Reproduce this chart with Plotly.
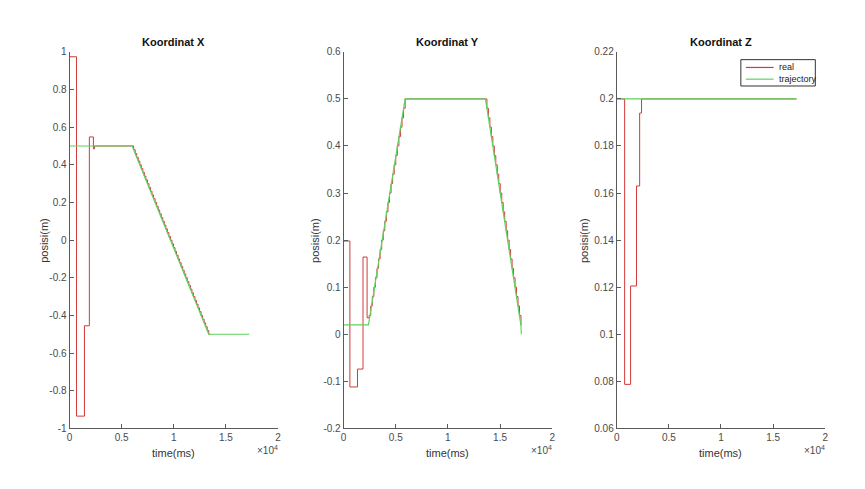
import plotly.graph_objects as go

# ---------------- data ----------------
# Koordinat X
x_traj_t = [0, 6000, 13350, 17240]
x_traj_v = [0.5, 0.5, -0.5, -0.5]
x_real_pre_t = [0, 670, 1430, 1900, 2290, 2400]
x_real_pre_v = [0.974, -0.935, -0.455, 0.548, 0.485, 0.5]
x_ramp_start = 6000
x_ramp_dt = 147
x_ramp_v = [0.50, 0.48, 0.46, 0.44, 0.42, 0.40, 0.38, 0.36, 0.34, 0.32,
            0.30, 0.28, 0.26, 0.24, 0.22, 0.20, 0.18, 0.16, 0.14, 0.12,
            0.10, 0.08, 0.06, 0.04, 0.02, 0.00, -0.02, -0.04, -0.06, -0.08,
            -0.10, -0.12, -0.14, -0.16, -0.18, -0.20, -0.22, -0.24, -0.26, -0.28,
            -0.30, -0.32, -0.34, -0.36, -0.38, -0.40, -0.42, -0.44, -0.46, -0.48,
            -0.50]
x_real_end_t = [13500]
x_real_end_v = [-0.5]

# Koordinat Y
y_traj_t = [0, 2380, 5900, 13600, 17000, 17050]
y_traj_v = [0.02, 0.02, 0.5, 0.5, 0.02, 0.0]
y_real_pre_t = [0, 600, 1330, 1860, 2250]
y_real_pre_v = [0.198, -0.112, -0.074, 0.164, 0.035]
y_up_start = 2450
y_up_dt = 150
y_up_v = [0.04, 0.06, 0.08, 0.10, 0.12, 0.14, 0.16, 0.18, 0.20, 0.22,
          0.24, 0.26, 0.28, 0.30, 0.32, 0.34, 0.36, 0.38, 0.40, 0.42,
          0.44, 0.46, 0.48, 0.50]
y_down_start = 13600
y_down_dt = 142
y_down_v = [0.50, 0.48, 0.46, 0.44, 0.42, 0.40, 0.38, 0.36, 0.34, 0.32,
            0.30, 0.28, 0.26, 0.24, 0.22, 0.20, 0.18, 0.16, 0.14, 0.12,
            0.10, 0.08, 0.06, 0.04, 0.02]
y_real_end_t = [17050]
y_real_end_v = [0.02]

# Koordinat Z
z_traj_t = [0, 17240]
z_traj_v = [0.2, 0.2]
z_real_t = [0, 760, 1330, 1900, 2200, 2380, 17240]
z_real_v = [0.2, 0.0787, 0.1205, 0.163, 0.194, 0.2, 0.2]

# axes / labels
titles = ["Koordinat X", "Koordinat Y", "Koordinat Z"]
x_tickvals = [0, 5000, 10000, 15000, 20000]
x_ticktext = ["0", "0.5", "1", "1.5", "2"]
yx_ticks = [-1, -0.8, -0.6, -0.4, -0.2, 0, 0.2, 0.4, 0.6, 0.8, 1]
yx_text = ["-1", "-0.8", "-0.6", "-0.4", "-0.2", "0", "0.2", "0.4", "0.6", "0.8", "1"]
yy_ticks = [-0.2, -0.1, 0, 0.1, 0.2, 0.3, 0.4, 0.5, 0.6]
yy_text = ["-0.2", "-0.1", "0", "0.1", "0.2", "0.3", "0.4", "0.5", "0.6"]
yz_ticks = [0.06, 0.08, 0.1, 0.12, 0.14, 0.16, 0.18, 0.2, 0.22]
yz_text = ["0.06", "0.08", "0.1", "0.12", "0.14", "0.16", "0.18", "0.2", "0.22"]
series_names = ["real", "trajectory"]

# ---------------- build ----------------
x_real_t = x_real_pre_t + [x_ramp_start + i * x_ramp_dt for i in range(len(x_ramp_v))] + x_real_end_t
x_real_v = x_real_pre_v + x_ramp_v + x_real_end_v
y_real_t = (y_real_pre_t + [y_up_start + i * y_up_dt for i in range(len(y_up_v))]
            + [y_down_start + i * y_down_dt for i in range(len(y_down_v))] + y_real_end_t)
y_real_v = y_real_pre_v + y_up_v + y_down_v + y_real_end_v

W, H = 865, 489
RED = "#d23a3a"
GREEN = "#5dd35d"
AXC = "#5a5a5a"
FONT = "Liberation Sans, Arial, sans-serif"

# (left px, right px, ..., ylabel centre px)
panels = [
    (67, 277, x_real_t, x_real_v, x_traj_t, x_traj_v, [-1, 1], yx_ticks, yx_text, 41),
    (343, 553, y_real_t, y_real_v, y_traj_t, y_traj_v, [-0.2, 0.6], yy_ticks, yy_text, 314),
    (618, 828, z_real_t, z_real_v, z_traj_t, z_traj_v, [0.06, 0.22], yz_ticks, yz_text, 585),
]
top_px, bot_px = 47, 433


def px(xp, yp):
    return xp / W, 1 - yp / H


fig = go.Figure()
annotations = []
shapes = []
for i, (l, r, rt, rv, tt, tv, yr, ytv, ytt, ylx) in enumerate(panels):
    n = "" if i == 0 else str(i + 1)
    xa, ya = "x" + n, "y" + n
    fig.add_trace(go.Scatter(x=rt, y=rv, mode="lines", line=dict(color=RED, width=1, shape="hv"),
                             name=series_names[0], showlegend=False, xaxis=xa, yaxis=ya))
    fig.add_trace(go.Scatter(x=tt, y=tv, mode="lines", line=dict(color=GREEN, width=1.2),
                             name=series_names[1], showlegend=False, xaxis=xa, yaxis=ya))
    axis_common = dict(showgrid=False, zeroline=False, showline=True, linecolor=AXC, linewidth=1,
                       ticks="inside", ticklen=4, tickcolor=AXC, mirror=False,
                       tickfont=dict(family=FONT, size=10, color="#4a4a4a"))
    fig.update_layout(**{
        ("xaxis" + n): dict(domain=[l / W, r / W], range=[0, 20000], anchor=ya,
                            tickvals=x_tickvals, ticktext=x_ticktext, **axis_common),
        ("yaxis" + n): dict(domain=[1 - bot_px / H, 1 - top_px / H], range=yr, anchor=xa,
                            tickvals=ytv, ticktext=ytt, **axis_common),
    })
    cx = (l + r) / 2
    ax_, ay_ = px(cx, 37)
    annotations.append(dict(text="<b>" + titles[i] + "</b>", x=ax_, y=ay_, xref="paper", yref="paper",
                            xanchor="center", yanchor="middle",
                            showarrow=False, font=dict(family=FONT, size=11, color="#111")))
    ax_, ay_ = px(cx, 458)
    annotations.append(dict(text="time(ms)", x=ax_, y=ay_, xref="paper", yref="paper",
                            xanchor="center", yanchor="middle",
                            showarrow=False, font=dict(family=FONT, size=11, color="#333")))
    ax_, ay_ = px(r + 2, 455)
    annotations.append(dict(text="×10<sup>4</sup>", x=ax_, y=ay_, xref="paper", yref="paper",
                            xanchor="right", yanchor="middle", showarrow=False,
                            font=dict(family=FONT, size=10, color="#4a4a4a")))
    ax_, ay_ = px(ylx, 240)
    annotations.append(dict(text="posisi(m)", x=ax_, y=ay_, xref="paper", yref="paper",
                            xanchor="center", yanchor="middle",
                            textangle=-90, showarrow=False, font=dict(family=FONT, size=11, color="#333")))

# legend box in the Z panel (drawn manually to match the compact MATLAB legend)
x0, y0 = px(743, 55)
x1, y1 = px(818, 82)
shapes.append(dict(type="rect", xref="paper", yref="paper", x0=x0, y0=y1, x1=x1, y1=y0,
                   line=dict(color="#333", width=1), fillcolor="white", layer="above"))
for k, (name, col) in enumerate(zip(series_names, [RED, GREEN])):
    yy = 63 + 12 * k
    lx0, ly = px(748, yy)
    lx1, _ = px(776, yy)
    shapes.append(dict(type="line", xref="paper", yref="paper", x0=lx0, y0=ly, x1=lx1, y1=ly,
                       line=dict(color=col, width=1.2), layer="above"))
    tx, ty = px(779, yy)
    annotations.append(dict(text=name, x=tx, y=ty, xref="paper", yref="paper",
                            xanchor="left", yanchor="middle", showarrow=False,
                            font=dict(family=FONT, size=9, color="#222")))

fig.update_layout(
    width=W, height=H, margin=dict(l=0, r=0, t=0, b=0),
    paper_bgcolor="white", plot_bgcolor="white",
    annotations=annotations, shapes=shapes, showlegend=False,
)

fig.write_html("out.html")
